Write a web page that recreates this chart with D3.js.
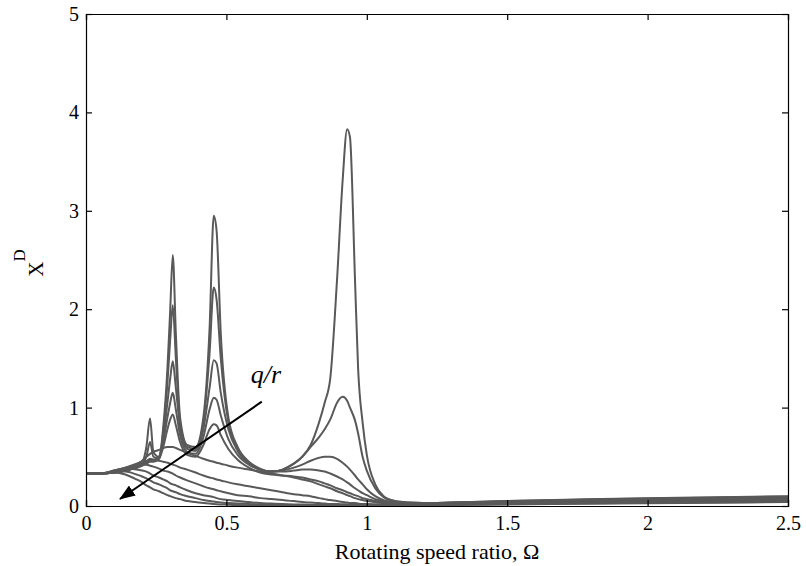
<!DOCTYPE html>
<html>
<head>
<meta charset="utf-8">
<script src="https://cdn.jsdelivr.net/npm/d3@7"></script>
<style>
  body { margin: 0; background: #fff; }
  svg { display: block; }
  .axis text { font-family: "Liberation Serif", "Times New Roman", serif; font-size: 20px; fill: #000; }
  .axis path, .axis line { stroke: #000; stroke-width: 1.2; }
</style>
</head>
<body>
<svg></svg>
<script>
// rotating speed ratio grid shared by every curve
const omega = [
  0, 0.05, 0.1, 0.14, 0.18, 0.2, 0.215, 0.228, 0.24, 0.26,
  0.275, 0.29, 0.3, 0.309, 0.32, 0.335, 0.36, 0.39, 0.418, 0.44,
  0.455, 0.465, 0.48, 0.507, 0.54, 0.58, 0.62, 0.66, 0.7, 0.74,
  0.77, 0.8, 0.83, 0.85, 0.87, 0.894, 0.914, 0.93, 0.94, 0.958,
  0.969, 0.985, 1.0, 1.03, 1.06, 1.1, 1.15, 1.2, 1.3, 1.5,
  1.75, 2.0, 2.25, 2.5
];

// X^D for decreasing q/r
const curve1 = [
  .33,.33,.34,.36,.4,.44,.6,.89,.55,.5,
  .8,1.4,2.0,2.55,1.75,.9,.62,.6,.9,1.8,
  2.95,2.8,1.75,.9,.6,.45,.38,.35,.37,.43,
  .5,.62,.85,1.05,1.3,2.3,3.31,3.83,3.75,2.3,
  1.4,.85,.52,.22,.1,.05,.035,.03,.035,.05,
  .065,.08,.09,.1
];
const curve2 = [
  .33,.33,.34,.36,.4,.43,.5,.65,.5,.48,
  .75,1.25,1.7,2.04,1.5,.85,.6,.58,.85,1.55,
  2.22,2.1,1.5,.85,.58,.44,.37,.35,.37,.43,
  .5,.6,.7,.78,.88,1.05,1.11,1.07,1.0,.87,
  .74,.5,.36,.18,.09,.05,.035,.03,.035,.05,
  .063,.076,.086,.095
];
const curve3 = [
  .33,.33,.34,.36,.39,.42,.45,.48,.47,.5,
  .7,1.05,1.3,1.47,1.2,.8,.58,.56,.78,1.2,
  1.48,1.45,1.15,.78,.56,.43,.37,.35,.36,.39,
  .42,.46,.49,.5,.5,.48,.44,.4,.37,.31,
  .27,.22,.17,.1,.06,.04,.03,.028,.032,.045,
  .06,.072,.082,.092
];
const curve4 = [
  .33,.33,.34,.36,.39,.41,.44,.46,.46,.49,
  .65,.9,1.05,1.15,.98,.72,.55,.53,.7,.98,
  1.1,1.08,.92,.68,.52,.42,.37,.35,.35,.36,
  .37,.37,.36,.35,.33,.3,.27,.24,.22,.18,
  .16,.13,.11,.07,.05,.035,.028,.026,.03,.042,
  .055,.066,.076,.085
];
const curve5 = [
  .33,.33,.34,.36,.39,.41,.43,.45,.45,.48,
  .6,.78,.88,.93,.82,.65,.52,.5,.62,.78,
  .83,.82,.72,.58,.47,.39,.34,.32,.31,.3,
  .29,.27,.25,.23,.21,.18,.16,.14,.13,.11,
  .1,.08,.07,.05,.04,.03,.025,.024,.028,.04,
  .052,.062,.071,.08
];
const curve6 = [
  .33,.33,.34,.37,.42,.46,.5,.53,.55,.57,
  .59,.6,.6,.6,.59,.57,.54,.51,.48,.46,
  .45,.44,.43,.41,.39,.37,.35,.33,.31,.29,
  .27,.25,.22,.2,.18,.15,.13,.11,.1,.08,
  .07,.06,.05,.04,.03,.025,.022,.022,.026,.037,
  .048,.058,.066,.074
];
const curve7 = [
  .33,.33,.35,.39,.43,.45,.46,.47,.47,.46,
  .45,.44,.43,.42,.41,.39,.37,.34,.31,.29,
  .28,.27,.26,.24,.22,.2,.18,.16,.14,.12,
  .11,.1,.08,.07,.06,.05,.04,.035,.03,.03,
  .025,.02,.02,.018,.016,.015,.015,.016,.02,.03,
  .04,.05,.058,.065
];
const curve8 = [
  .33,.33,.36,.39,.41,.42,.42,.41,.4,.38,
  .36,.35,.34,.33,.31,.29,.26,.23,.2,.18,
  .17,.16,.15,.13,.11,.1,.08,.07,.06,.05,
  .04,.035,.03,.025,.02,.02,.018,.016,.015,.014,
  .013,.012,.012,.011,.011,.011,.012,.013,.017,.026,
  .035,.044,.051,.058
];
const curve9 = [
  .33,.33,.36,.38,.37,.36,.35,.33,.31,.29,
  .27,.25,.23,.22,.21,.19,.16,.13,.11,.1,
  .09,.08,.07,.06,.05,.04,.03,.025,.02,.016,
  .014,.012,.01,.009,.009,.008,.008,.008,.008,.008,
  .008,.008,.008,.008,.009,.009,.01,.011,.014,.022,
  .03,.038,.045,.051
];
const curve10 = [
  .33,.33,.35,.35,.32,.3,.28,.26,.24,.22,
  .2,.18,.16,.15,.14,.12,.1,.08,.06,.05,
  .045,.04,.035,.03,.025,.02,.015,.012,.01,.008,
  .007,.006,.006,.006,.006,.006,.006,.006,.006,.006,
  .006,.006,.006,.006,.006,.007,.008,.009,.012,.019,
  .026,.033,.039,.045
];
const curve11 = [
  .33,.33,.34,.32,.27,.24,.21,.19,.17,.15,
  .13,.11,.1,.09,.08,.07,.05,.04,.03,.025,
  .02,.018,.016,.013,.01,.008,.006,.005,.005,.005,
  .005,.005,.005,.005,.005,.005,.005,.005,.005,.005,
  .005,.005,.005,.005,.005,.005,.006,.007,.01,.016,
  .022,.028,.034,.04
];
const curves = [curve1, curve2, curve3, curve4, curve5, curve6, curve7, curve8, curve9, curve10, curve11];

const xTicks = [0, 0.5, 1, 1.5, 2, 2.5];
const yTicks = [0, 1, 2, 3, 4, 5];

// q/r arrow (data coords)
const arrowFrom = [0.626, 1.06];
const arrowTo = [0.121, 0.071];
const labelAt = [0.641, 1.25];

const width = 806, height = 566;
const margin = {top: 14, right: 18, bottom: 60, left: 86};

let svg = d3.select("svg")
    .attr("width", width)
    .attr("height", height);

let x = d3.scaleLinear().domain([0, 2.5]).range([margin.left, width - margin.right]);
let y = d3.scaleLinear().domain([0, 5]).range([height - margin.bottom, margin.top]);

svg.append("defs").append("clipPath").attr("id", "clip")
    .append("rect")
    .attr("x", margin.left).attr("y", margin.top)
    .attr("width", x.range()[1] - x.range()[0])
    .attr("height", y.range()[0] - y.range()[1]);

svg.append("defs").append("marker")
    .attr("id", "head")
    .attr("markerUnits", "userSpaceOnUse")
    .attr("viewBox", "0 0 16 12")
    .attr("refX", 15).attr("refY", 6)
    .attr("markerWidth", 16).attr("markerHeight", 12)
    .attr("orient", "auto")
    .append("path")
    .attr("d", "M0,0 L16,6 L0,12 Z")
    .attr("fill", "#000");

let line = d3.line()
    .x((d, i) => x(omega[i]))
    .y(d => y(d))
    .curve(d3.curveMonotoneX);

svg.append("g")
    .attr("clip-path", "url(#clip)")
    .selectAll("path")
    .data(curves)
    .enter()
    .append("path")
    .attr("d", line)
    .attr("fill", "none")
    .attr("stroke", "#595959")
    .attr("stroke-width", 2);

// axes, ticks pointing inward on all four sides
svg.append("g")
    .attr("class", "axis")
    .attr("transform", `translate(0,${y(0)})`)
    .call(d3.axisBottom(x).tickValues(xTicks).tickSize(-6).tickPadding(10).tickFormat(d3.format("")));

svg.append("g")
    .attr("class", "axis")
    .attr("transform", `translate(0,${y(5)})`)
    .call(d3.axisTop(x).tickValues(xTicks).tickSize(-6).tickFormat(""));

svg.append("g")
    .attr("class", "axis")
    .attr("transform", `translate(${x(0)},0)`)
    .call(d3.axisLeft(y).tickValues(yTicks).tickSize(-6).tickPadding(7).tickFormat(d3.format("")));

svg.append("g")
    .attr("class", "axis")
    .attr("transform", `translate(${x(2.5)},0)`)
    .call(d3.axisRight(y).tickValues(yTicks).tickSize(-6).tickFormat(""));

// arrow and label
svg.append("line")
    .attr("x1", x(arrowFrom[0])).attr("y1", y(arrowFrom[1]))
    .attr("x2", x(arrowTo[0])).attr("y2", y(arrowTo[1]))
    .attr("stroke", "#000")
    .attr("stroke-width", 2)
    .attr("marker-end", "url(#head)");

svg.append("text")
    .attr("x", x(labelAt[0])).attr("y", y(labelAt[1]))
    .attr("text-anchor", "middle")
    .style("font-family", "'Liberation Serif', serif")
    .style("font-style", "italic")
    .style("font-size", "26px")
    .text("q/r");

// axis titles
svg.append("text")
    .attr("x", (x(0) + x(2.5)) / 2)
    .attr("y", 559)
    .attr("text-anchor", "middle")
    .style("font-family", "'Liberation Serif', serif")
    .style("font-size", "22px")
    .text("Rotating speed ratio, Ω");

let ylab = svg.append("text")
    .attr("transform", "translate(43,263) rotate(-90)")
    .attr("text-anchor", "middle")
    .style("font-family", "'Liberation Serif', serif")
    .style("font-size", "21px");
ylab.append("tspan").text("X");
ylab.append("tspan")
    .attr("dy", -18)
    .style("font-size", "17px")
    .text("D");
</script>
</body>
</html>
